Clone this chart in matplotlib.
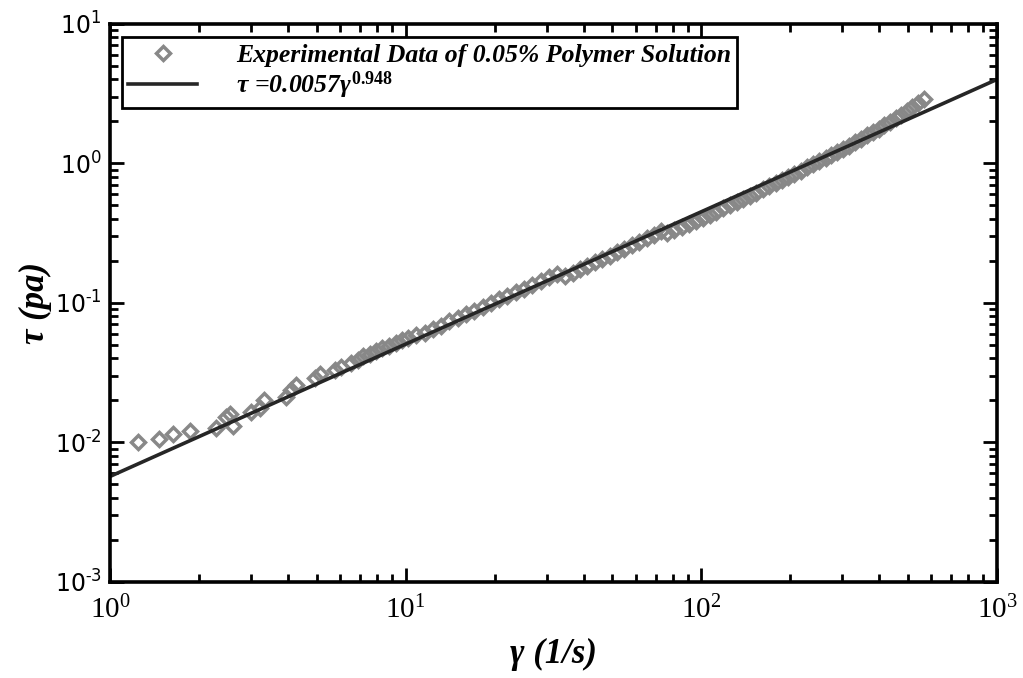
import matplotlib
matplotlib.use('Agg')
import math
import matplotlib.pyplot as plt
from matplotlib.ticker import LogLocator, FuncFormatter, NullFormatter

plt.rcParams['mathtext.fontset'] = 'custom'
plt.rcParams['mathtext.rm'] = 'Liberation Serif:bold'
plt.rcParams['mathtext.it'] = 'Liberation Serif:italic:bold'
plt.rcParams['mathtext.bf'] = 'Liberation Serif:bold'

# shear rate (1/s) and shear stress (pa) for the 0.05% polymer solution
shear_rate = [1.24, 1.46, 1.64, 1.86, 2.29, 2.47, 2.55, 2.60, 3.00, 3.21, 3.33, 3.95, 4.10, 4.27,
              4.92, 5.12, 5.75, 6.05, 6.55, 6.90, 7.20, 7.55, 7.95, 8.35, 8.80, 9.25, 9.70, 10.2,
              10.85, 11.59, 12.36, 13.18, 14.06, 15.00, 16.00, 17.06, 18.20, 19.41, 20.70, 22.08,
              23.55, 25.12, 26.79, 28.58, 30.48, 32.51, 34.67, 36.73, 38.90, 41.21, 43.65, 46.24,
              48.98, 51.88, 54.95, 58.21, 61.66, 65.31, 69.18, 73.28, 76.74, 81.10, 85.70, 90.57,
              95.72, 101.2, 106.7, 112.5, 118.6, 125.0, 131.8, 138.7, 145.9, 153.5, 161.4, 169.8,
              178.6, 187.5, 196.8, 206.5, 216.8, 227.5, 238.8, 250.6, 263.0, 275.4, 288.4, 302.0,
              316.2, 331.1, 346.7, 363.1, 380.2, 398.1, 415.9, 434.5, 453.9, 474.2, 495.5, 517.6,
              540.8, 564.9]
shear_stress = [0.0101, 0.0105, 0.0114, 0.0120, 0.0126, 0.0152, 0.0161, 0.0131, 0.0166, 0.0175,
                0.0200, 0.0212, 0.0237, 0.0257, 0.0287, 0.0308, 0.0330, 0.0345, 0.0368, 0.0392,
                0.0415, 0.0432, 0.0452, 0.0472, 0.0494, 0.0518, 0.0540, 0.0563, 0.0592, 0.0609,
                0.0651, 0.0686, 0.0735, 0.0776, 0.0830, 0.0877, 0.0936, 0.0990, 0.1059, 0.1120,
                0.1196, 0.1265, 0.1351, 0.1430, 0.1527, 0.1618, 0.1548, 0.1639, 0.1735, 0.1837,
                0.1944, 0.2058, 0.2179, 0.2306, 0.2441, 0.2589, 0.2741, 0.2908, 0.3079, 0.3266,
                0.3148, 0.3309, 0.3479, 0.3657, 0.3855, 0.4062, 0.4271, 0.4501, 0.4745, 0.5000,
                0.5270, 0.5542, 0.5842, 0.6142, 0.6475, 0.6823, 0.7192, 0.7582, 0.7974, 0.8406,
                0.8840, 0.9319, 0.9824, 1.036, 1.092, 1.148, 1.208, 1.270, 1.337, 1.413, 1.492,
                1.581, 1.670, 1.769, 1.870, 1.981, 2.098, 2.228, 2.371, 2.523, 2.697, 2.884]

# power law fit  tau = K * gamma^n
K = 0.0057
n = 0.948
fit_rate = [1.0, 1000.0]
fit_stress = [K * g ** n for g in fit_rate]

fig = plt.figure(figsize=(10.23, 6.78), dpi=100)
ax = fig.add_axes([0.1075, 0.1416, 0.8671, 0.8237])

ax.plot(shear_rate, shear_stress, 'D', markersize=7, markerfacecolor='none',
        markeredgecolor='#888888', markeredgewidth=2.5,
        label='Experimental Data of 0.05% Polymer Solution')
ax.plot(fit_rate, fit_stress, '-', color='#262626', linewidth=2.6,
        label=r'$\tau\ $=0.0057$\gamma^{0.948}$')

ax.set_xscale('log')
ax.set_yscale('log')
ax.set_xlim(1, 1000)
ax.set_ylim(1e-3, 1e1)

for s in ax.spines.values():
    s.set_linewidth(2.6)

ax.xaxis.set_major_locator(LogLocator(base=10, numticks=10))
ax.yaxis.set_major_locator(LogLocator(base=10, numticks=10))
ax.xaxis.set_minor_locator(LogLocator(base=10, subs=range(2, 10), numticks=20))
ax.yaxis.set_minor_locator(LogLocator(base=10, subs=range(2, 10), numticks=20))
ax.xaxis.set_minor_formatter(NullFormatter())
ax.yaxis.set_minor_formatter(NullFormatter())

def decade(v, pos):
    e = round(math.log10(v))
    # plain hyphen for negative exponents
    return r'$\mathregular{10^{%s}}$' % (r'\text{-}%d' % -e if e < 0 else '%d' % e)

ax.xaxis.set_major_formatter(FuncFormatter(decade))
ax.yaxis.set_major_formatter(FuncFormatter(decade))

ax.tick_params(which='both', direction='in', top=True, right=True, width=2)
ax.tick_params(which='major', length=10)
ax.tick_params(which='minor', length=6)
ax.tick_params(axis='x', which='major', pad=10)
ax.tick_params(axis='y', which='major', pad=6)
for t in ax.get_xticklabels():
    t.set_fontfamily('Liberation Serif')
    t.set_fontsize(21)
for t in ax.get_yticklabels():
    t.set_fontfamily('DejaVu Sans')
    t.set_fontsize(17)

ax.set_xlabel('γ (1/s)', fontfamily='Liberation Serif', fontstyle='italic',
              fontweight='bold', fontsize=25, labelpad=10)
ax.set_ylabel('τ (pa)', fontfamily='Liberation Serif', fontstyle='italic',
              fontweight='bold', fontsize=25, labelpad=2)

leg = ax.legend(loc='upper left', bbox_to_anchor=(0.013, 0.975), fancybox=False,
                framealpha=1, edgecolor='black', handlelength=2.7, handletextpad=1.5,
                borderpad=0.25, labelspacing=0.12, borderaxespad=0,
                prop={'family': 'Liberation Serif', 'style': 'italic', 'weight': 'bold', 'size': 18.5})
leg.get_frame().set_linewidth(2)

fig.savefig('out.png', dpi=100)
